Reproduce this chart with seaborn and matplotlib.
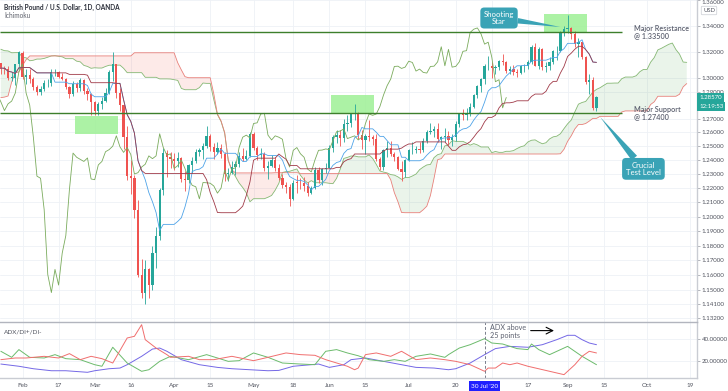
import numpy as np
import pandas as pd
import matplotlib
matplotlib.use("Agg")
import matplotlib.pyplot as plt
import matplotlib.ticker as mticker
import matplotlib.transforms as mtrans
from matplotlib.patches import Rectangle
import seaborn as sns

# GBP/USD daily candles, 24 Jan - 11 Sep 2020 (one value per trading day)
opens = [1.3113, 1.3074, 1.3070, 1.3002, 1.3005, 1.3105,
         1.3195, 1.3008, 1.3025, 1.2993, 1.2937, 1.2896, 1.2920, 1.2964, 1.2969, 1.3045,
         1.3048, 1.3010, 1.2995, 1.2935, 1.2880, 1.2955, 1.2925, 1.2990, 1.2908, 1.2880,
         1.2825, 1.2760, 1.2810, 1.2830, 1.2890, 1.3050, 1.3110, 1.2890, 1.2800, 1.2567,
         1.2285, 1.2270, 1.2050, 1.1605, 1.1485, 1.1640, 1.1535, 1.1750, 1.1870, 1.2190,
         1.2450, 1.2420, 1.2405, 1.2390, 1.2415, 1.2265, 1.2260, 1.2365, 1.2390, 1.2460,
         1.2475, 1.2500, 1.2575, 1.2495, 1.2455, 1.2490, 1.2440, 1.2300, 1.2310, 1.2350,
         1.2370, 1.2430, 1.2410, 1.2430, 1.2590, 1.2490, 1.2435, 1.2445, 1.2340, 1.2360,
         1.2400, 1.2340, 1.2270, 1.2220, 1.2210, 1.2125, 1.2240, 1.2238, 1.2235, 1.2215,
         1.2165, 1.2200, 1.2330, 1.2255, 1.2335, 1.2345, 1.2490, 1.2565, 1.2580, 1.2560,
         1.2665, 1.2670, 1.2735, 1.2740, 1.2580, 1.2545, 1.2575, 1.2565, 1.2550, 1.2410,
         1.2350, 1.2470, 1.2490, 1.2445, 1.2420, 1.2335, 1.2315, 1.2400, 1.2470, 1.2472,
         1.2480, 1.2475, 1.2540, 1.2605, 1.2610, 1.2625, 1.2555, 1.2565, 1.2575, 1.2545,
         1.2565, 1.2665, 1.2735, 1.2725, 1.2735, 1.2790, 1.2875, 1.2945, 1.2995, 1.3090,
         1.3092, 1.3075, 1.3085, 1.3130, 1.3120, 1.3055, 1.3070, 1.3045, 1.3040, 1.3090,
         1.3092, 1.3125, 1.3240, 1.3095, 1.3220, 1.3085, 1.3090, 1.3125, 1.3205, 1.3210,
         1.3350, 1.3375, 1.3385, 1.3340, 1.3260, 1.3275, 1.3160, 1.2975, 1.2990, 1.2780]
highs = [1.3119, 1.3092, 1.3094, 1.3048, 1.3112, 1.3207,
         1.3210, 1.3069, 1.3070, 1.3010, 1.2950, 1.2945, 1.2990, 1.2995, 1.3070, 1.3069,
         1.3055, 1.3039, 1.3000, 1.2942, 1.2978, 1.2975, 1.3000, 1.2998, 1.2930, 1.2890,
         1.2830, 1.2825, 1.2860, 1.2925, 1.3063, 1.3200, 1.3110, 1.2928, 1.2800, 1.2650,
         1.2400, 1.2290, 1.2120, 1.1710, 1.1700, 1.1650, 1.1800, 1.1930, 1.2200, 1.2485,
         1.2470, 1.2460, 1.2450, 1.2460, 1.2420, 1.2325, 1.2375, 1.2420, 1.2480, 1.2490,
         1.2525, 1.2647, 1.2590, 1.2520, 1.2530, 1.2515, 1.2460, 1.2340, 1.2390, 1.2390,
         1.2460, 1.2485, 1.2470, 1.2600, 1.2600, 1.2500, 1.2490, 1.2460, 1.2390, 1.2435,
         1.2420, 1.2370, 1.2300, 1.2245, 1.2230, 1.2260, 1.2295, 1.2270, 1.2280, 1.2245,
         1.2215, 1.2350, 1.2350, 1.2345, 1.2380, 1.2505, 1.2580, 1.2620, 1.2620, 1.2700,
         1.2730, 1.2745, 1.2812, 1.2750, 1.2620, 1.2585, 1.2690, 1.2580, 1.2590, 1.2420,
         1.2480, 1.2540, 1.2540, 1.2460, 1.2430, 1.2390, 1.2410, 1.2480, 1.2530, 1.2500,
         1.2530, 1.2560, 1.2620, 1.2670, 1.2650, 1.2670, 1.2575, 1.2630, 1.2610, 1.2590,
         1.2680, 1.2740, 1.2770, 1.2780, 1.2815, 1.2880, 1.2950, 1.3005, 1.3105, 1.3170,
         1.3120, 1.3100, 1.3140, 1.3185, 1.3135, 1.3090, 1.3100, 1.3070, 1.3100, 1.3110,
         1.3140, 1.3250, 1.3265, 1.3235, 1.3230, 1.3120, 1.3160, 1.3215, 1.3245, 1.3360,
         1.3400, 1.3482, 1.3390, 1.3365, 1.3305, 1.3280, 1.3170, 1.3035, 1.3010, 1.2870]
lows = [1.3036, 1.3034, 1.2988, 1.2977, 1.2953, 1.3072,
        1.2994, 1.2957, 1.2963, 1.2912, 1.2873, 1.2874, 1.2905, 1.2938, 1.2945, 1.3015,
        1.3002, 1.2985, 1.2918, 1.2850, 1.2870, 1.2895, 1.2905, 1.2884, 1.2838, 1.2725,
        1.2725, 1.2725, 1.2770, 1.2820, 1.2880, 1.2984, 1.2852, 1.2760, 1.2480, 1.2260,
        1.2160, 1.1990, 1.1590, 1.1450, 1.1409, 1.1450, 1.1500, 1.1650, 1.1840, 1.2150,
        1.2280, 1.2340, 1.2330, 1.2350, 1.2245, 1.2180, 1.2240, 1.2310, 1.2380, 1.2430,
        1.2410, 1.2490, 1.2465, 1.2405, 1.2445, 1.2415, 1.2250, 1.2250, 1.2300, 1.2290,
        1.2350, 1.2390, 1.2400, 1.2420, 1.2470, 1.2400, 1.2410, 1.2325, 1.2265, 1.2350,
        1.2320, 1.2260, 1.2200, 1.2165, 1.2075, 1.2120, 1.2165, 1.2195, 1.2180, 1.2145,
        1.2160, 1.2195, 1.2240, 1.2220, 1.2310, 1.2340, 1.2460, 1.2520, 1.2500, 1.2530,
        1.2610, 1.2640, 1.2690, 1.2555, 1.2480, 1.2440, 1.2540, 1.2510, 1.2390, 1.2330,
        1.2330, 1.2420, 1.2430, 1.2390, 1.2330, 1.2250, 1.2280, 1.2390, 1.2440, 1.2450,
        1.2450, 1.2460, 1.2520, 1.2590, 1.2570, 1.2530, 1.2480, 1.2530, 1.2510, 1.2500,
        1.2540, 1.2640, 1.2690, 1.2690, 1.2720, 1.2780, 1.2850, 1.2900, 1.2960, 1.3060,
        1.3005, 1.3030, 1.3060, 1.3100, 1.3040, 1.3035, 1.3025, 1.3010, 1.3030, 1.3050,
        1.3070, 1.3110, 1.3090, 1.3070, 1.3065, 1.3050, 1.3065, 1.3105, 1.3140, 1.3200,
        1.3320, 1.3345, 1.3300, 1.3240, 1.3160, 1.3150, 1.2955, 1.2885, 1.2765, 1.2760]
closes = [1.3074, 1.3070, 1.3002, 1.3005, 1.3105, 1.3203,
          1.3008, 1.3025, 1.2993, 1.2937, 1.2896, 1.2920, 1.2964, 1.2969, 1.3045, 1.3048,
          1.3010, 1.2995, 1.2935, 1.2880, 1.2955, 1.2925, 1.2990, 1.2908, 1.2880, 1.2825,
          1.2760, 1.2810, 1.2830, 1.2890, 1.3050, 1.3110, 1.2890, 1.2800, 1.2567, 1.2285,
          1.2270, 1.2050, 1.1605, 1.1485, 1.1640, 1.1535, 1.1750, 1.1870, 1.2190, 1.2450,
          1.2420, 1.2405, 1.2390, 1.2415, 1.2265, 1.2260, 1.2365, 1.2390, 1.2460, 1.2475,
          1.2500, 1.2575, 1.2495, 1.2455, 1.2490, 1.2440, 1.2300, 1.2310, 1.2350, 1.2370,
          1.2430, 1.2410, 1.2430, 1.2590, 1.2490, 1.2435, 1.2445, 1.2340, 1.2360, 1.2400,
          1.2340, 1.2270, 1.2220, 1.2210, 1.2125, 1.2240, 1.2238, 1.2235, 1.2215, 1.2165,
          1.2200, 1.2330, 1.2255, 1.2335, 1.2345, 1.2490, 1.2565, 1.2580, 1.2560, 1.2665,
          1.2670, 1.2735, 1.2740, 1.2580, 1.2545, 1.2575, 1.2565, 1.2550, 1.2410, 1.2350,
          1.2470, 1.2490, 1.2445, 1.2420, 1.2335, 1.2315, 1.2400, 1.2470, 1.2472, 1.2480,
          1.2475, 1.2540, 1.2605, 1.2610, 1.2625, 1.2555, 1.2565, 1.2575, 1.2545, 1.2565,
          1.2665, 1.2735, 1.2725, 1.2735, 1.2790, 1.2875, 1.2945, 1.2995, 1.3090, 1.3092,
          1.3075, 1.3085, 1.3130, 1.3120, 1.3055, 1.3070, 1.3045, 1.3040, 1.3090, 1.3092,
          1.3125, 1.3240, 1.3095, 1.3220, 1.3085, 1.3090, 1.3125, 1.3205, 1.3210, 1.3350,
          1.3375, 1.3385, 1.3340, 1.3260, 1.3275, 1.3160, 1.2975, 1.2990, 1.2780, 1.2857]

# leading spans over the first weeks (their look-back lies left of the visible window)
span_a_early = [1.3221, 1.3210, 1.3208, 1.3194, 1.3195, 1.3195,
                1.3158, 1.3156, 1.3133, 1.3137, 1.3146, 1.3146, 1.3151, 1.3160, 1.3170, 1.3172,
                1.3167, 1.3163, 1.3149, 1.3149, 1.3149, 1.3130, 1.3125, 1.3098, 1.3090, 1.3076,
                1.3080, 1.3078, 1.3078, 1.3090, 1.3099, 1.3100, 1.3100, 1.3100, 1.3076, 1.3043,
                1.3043, 1.3043, 1.3043, 1.3043, 1.3008, 1.3008, 1.3008, 1.3008, 1.2996, 1.2996,
                1.2996, 1.2995, 1.2990, 1.2985]
span_b_early = [1.2856, 1.2860, 1.2868, 1.2973, 1.3043, 1.3048,
                1.3098, 1.3141, 1.3170, 1.3170, 1.3170, 1.3170, 1.3170, 1.3170, 1.3170, 1.3170,
                1.3170, 1.3170, 1.3170, 1.3170, 1.3170, 1.3170, 1.3170, 1.3170, 1.3170, 1.3170,
                1.3170, 1.3170, 1.3170, 1.3170, 1.3170, 1.3170, 1.3170, 1.3170, 1.3170, 1.3170,
                1.3170, 1.3194, 1.3194, 1.3194, 1.3194, 1.3194, 1.3194, 1.3194, 1.3194, 1.3194,
                1.3194, 1.3194, 1.3194, 1.3118, 1.3064, 1.3013, 1.3005, 1.3005, 1.3005, 1.3005,
                1.3005, 1.3005, 1.3005, 1.2883, 1.2734, 1.2684, 1.2599, 1.2400, 1.2329, 1.2308,
                1.2308, 1.2308, 1.2308, 1.2308, 1.2308, 1.2308, 1.2308, 1.2308, 1.2308, 1.2308]

# ADX / DI+ / DI- read at their turning points
adx_dates = ["2020-01-24", "2020-01-31", "2020-02-06", "2020-02-13", "2020-02-19", "2020-02-27",
             "2020-03-02", "2020-03-06", "2020-03-11", "2020-03-13", "2020-03-19", "2020-03-24",
             "2020-03-26", "2020-03-30", "2020-04-03", "2020-04-10", "2020-04-17", "2020-04-23",
             "2020-04-30", "2020-05-07", "2020-05-12", "2020-05-18", "2020-05-25", "2020-05-27",
             "2020-06-01", "2020-06-05", "2020-06-09", "2020-06-15", "2020-06-22", "2020-06-29",
             "2020-07-03", "2020-07-10", "2020-07-16", "2020-07-20", "2020-07-24", "2020-07-30",
             "2020-08-04", "2020-08-10", "2020-08-17", "2020-08-21", "2020-08-27", "2020-09-01",
             "2020-09-03", "2020-09-07", "2020-09-09", "2020-09-11"]
adx_vals = [17.6, 15.6, 13.4, 11.6, 11.6, 10.2, 11.6, 13.4, 14.0, 17.0, 24.5, 31.0,
            31.9, 29.0, 21.5, 17.0, 14.6, 13.4, 12.5, 11.6, 11.9, 15.6, 17.0, 17.6,
            14.6, 17.0, 21.5, 23.0, 20.0, 17.0, 14.6, 14.0, 12.5, 13.4, 18.5, 26.0,
            31.4, 33.4, 32.6, 34.9, 39.4, 43.3, 43.3, 39.4, 36.4, 34.9]
diplus_dates = ["2020-01-24", "2020-01-29", "2020-01-31", "2020-02-05", "2020-02-11", "2020-02-14",
                "2020-02-19", "2020-02-25", "2020-03-02", "2020-03-04", "2020-03-09", "2020-03-13",
                "2020-03-19", "2020-03-23", "2020-03-26", "2020-03-31", "2020-04-07", "2020-04-14",
                "2020-04-22", "2020-04-27", "2020-05-01", "2020-05-07", "2020-05-13", "2020-05-20",
                "2020-05-26", "2020-05-29", "2020-06-03", "2020-06-08", "2020-06-11", "2020-06-16",
                "2020-06-22", "2020-06-25", "2020-06-30", "2020-07-03", "2020-07-09", "2020-07-15",
                "2020-07-16", "2020-07-21", "2020-07-24", "2020-07-30", "2020-08-03", "2020-08-06",
                "2020-08-12", "2020-08-17", "2020-08-18", "2020-08-20", "2020-08-25", "2020-09-01",
                "2020-09-07", "2020-09-11"]
diplus_vals = [29.0, 23.6, 30.5, 23.6, 23.0, 26.0, 22.4, 21.5, 17.0, 15.6, 32.6, 18.5,
               11.1, 12.5, 20.0, 24.5, 21.5, 26.0, 20.0, 20.6, 27.5, 23.6, 18.5, 17.6,
               17.0, 29.0, 30.5, 27.5, 25.0, 21.5, 20.0, 21.5, 20.0, 24.5, 26.6, 23.6,
               26.0, 31.9, 34.9, 40.3, 36.4, 35.5, 31.4, 30.5, 35.5, 30.5, 26.0, 33.4,
               24.5, 17.0]
diminus_dates = ["2020-01-24", "2020-01-30", "2020-02-04", "2020-02-11", "2020-02-17", "2020-02-20",
                 "2020-02-25", "2020-02-28", "2020-03-04", "2020-03-09", "2020-03-13", "2020-03-17",
                 "2020-03-19", "2020-03-20", "2020-03-25", "2020-03-30", "2020-03-31", "2020-04-07",
                 "2020-04-10", "2020-04-16", "2020-04-23", "2020-05-01", "2020-05-07", "2020-05-14",
                 "2020-05-20", "2020-05-26", "2020-05-29", "2020-06-08", "2020-06-10", "2020-06-11",
                 "2020-06-15", "2020-06-18", "2020-06-24", "2020-06-29", "2020-07-03", "2020-07-09",
                 "2020-07-15", "2020-07-20", "2020-07-24", "2020-07-30", "2020-07-31", "2020-08-04",
                 "2020-08-06", "2020-08-10", "2020-08-12", "2020-08-17", "2020-08-25", "2020-08-31",
                 "2020-09-03", "2020-09-07", "2020-09-09", "2020-09-11"]
diminus_vals = [21.5, 23.0, 23.0, 24.5, 23.0, 26.9, 21.5, 24.5, 22.4, 18.5, 40.9, 42.4,
                52.8, 39.4, 31.9, 26.0, 23.6, 24.5, 21.5, 21.5, 24.5, 20.6, 23.6, 27.5,
                26.0, 25.4, 21.5, 15.6, 12.5, 14.0, 26.0, 27.5, 24.5, 29.0, 21.5, 23.0,
                21.5, 20.0, 17.0, 11.1, 14.0, 14.0, 18.5, 17.0, 18.5, 15.6, 11.1, 8.1,
                17.0, 24.5, 29.0, 27.5]

resistance = 1.335
support = 1.274
last_price = 1.2857
price_ticks = [1.132, 1.141, 1.15, 1.16, 1.17, 1.18, 1.19, 1.20, 1.21, 1.22, 1.23,
               1.24, 1.25, 1.26, 1.27, 1.29, 1.30, 1.32, 1.34, 1.36]
tick_dates = ["2020-02-03", "2020-02-17", "2020-03-02", "2020-03-16", "2020-04-01", "2020-04-15",
              "2020-05-01", "2020-05-18", "2020-06-01", "2020-06-15", "2020-07-01", "2020-07-20",
              "2020-08-03", "2020-08-17", "2020-09-01", "2020-09-15", "2020-10-01", "2020-10-19"]
tick_labels = ["Feb", "17", "Mar", "16", "Apr", "15", "May", "18", "Jun", "15", "Jul", "20",
               "", "17", "Sep", "15", "Oct", "19"]

UP, DOWN = "#26a69a", "#ef5350"
TEAL = "#3aa3b6"
TXT = "#50535e"

sns.set_theme(style="white")
plt.rcParams["font.family"] = ["Lato", "DejaVu Sans"]

n = len(closes)
shift = 25
dates = pd.bdate_range("2020-01-24", periods=n + 45)
pos_of = {d.strftime("%Y-%m-%d"): i for i, d in enumerate(dates)}


def P(d):
    return pos_of[d]


px = pd.DataFrame({"open": opens, "high": highs, "low": lows, "close": closes})
px["x"] = np.arange(n)
px["tenkan"] = (px.high.rolling(9, min_periods=1).max() + px.low.rolling(9, min_periods=1).min()) / 2
px["kijun"] = (px.high.rolling(26, min_periods=1).max() + px.low.rolling(26, min_periods=1).min()) / 2
px["lag_x"] = px.x - shift
mid52 = (px.high.rolling(52).max() + px.low.rolling(52).min()) / 2

span_a = np.full(n + shift, np.nan)
span_b = np.full(n + shift, np.nan)
span_a[shift:] = ((px.tenkan + px.kijun) / 2).values
span_b[shift:] = mid52.values
span_a[:len(span_a_early)] = span_a_early
span_b[:len(span_b_early)] = span_b_early
cloud = pd.DataFrame({"x": np.arange(n + shift), "a": span_a, "b": span_b})

fig = plt.figure(figsize=(7.28, 3.91), dpi=100)
ax = fig.add_axes([0, 69 / 391, 697 / 728, 322 / 391])
ax2 = fig.add_axes([0, 13 / 391, 697 / 728, 56 / 391])

xlim = (6 - 22.5 / 3.61, 6 + (697 - 22.5) / 3.61)
grid_x = [P(d) for d in tick_dates]

# ---- price pane
ax.set_yscale("log")
ax.fill_between(cloud.x, cloud.a, cloud.b, where=cloud.a >= cloud.b, interpolate=True,
                color="#43a047", alpha=0.11, lw=0, zorder=1)
ax.fill_between(cloud.x, cloud.a, cloud.b, where=cloud.a < cloud.b, interpolate=True,
                color="#f44336", alpha=0.11, lw=0, zorder=1)

up = px.close >= px.open
cols = np.where(up, UP, DOWN)
ax.vlines(px.x, px.low, px.high, colors=cols, lw=0.6, zorder=3)
body_lo = np.minimum(px.open, px.close)
body_h = np.maximum((px.close - px.open).abs(), 0.0005)
ax.bar(px.x, body_h, bottom=body_lo, width=0.62, color=cols, lw=0, zorder=3)

sns.lineplot(data=cloud, x="x", y="a", ax=ax, color="#86b874", lw=0.6, zorder=2)
sns.lineplot(data=cloud, x="x", y="b", ax=ax, color="#e8807a", lw=0.6, zorder=2)
sns.lineplot(data=px, x="lag_x", y="close", ax=ax, color="#7aab5c", lw=0.6, zorder=4)
sns.lineplot(data=px, x="x", y="tenkan", ax=ax, color="#4ea3e8", lw=0.6, zorder=4)
sns.lineplot(data=px, x="x", y="kijun", ax=ax, color="#a03a48", lw=0.6, zorder=4)

# highlighted zones
zones = [("2020-02-24", "2020-03-10", 1.2588, 1.2721),
         ("2020-06-02", "2020-06-17", 1.2735, 1.2876),
         ("2020-08-24", "2020-09-08", 1.3346, 1.3493)]
for d0, d1, p0, p1 in zones:
    ax.add_patch(Rectangle((P(d0) - 0.5, p0), P(d1) - P(d0) + 1, p1 - p0,
                           fc="#9ef096", ec="none", alpha=0.85, zorder=2.5))

line_end = P("2020-09-22")
ax.hlines([resistance, support], xlim[0], line_end, color="#3d7f2c", lw=1.0, zorder=5)
ax.text(P("2020-09-25") + 0.5, resistance, "Major Resistance\n@ 1.33500", fontsize=5.2,
        color="#5d6170", va="center", ha="left", linespacing=1.05, weight="semibold")
ax.text(P("2020-09-25") + 0.5, support, "Major Support\n@ 1.27400", fontsize=5.2,
        color="#5d6170", va="center", ha="left", linespacing=1.05, weight="semibold")

ax.annotate("Shooting\nStar", xy=(P("2020-08-28"), 1.3392), xytext=(P("2020-08-05"), 1.3462),
            ha="center", va="center", color="white", fontsize=5.6, linespacing=1.0,
            bbox=dict(boxstyle="round,pad=0.45,rounding_size=0.5", fc=TEAL, ec="none"),
            arrowprops=dict(arrowstyle="wedge,tail_width=0.7", fc=TEAL, ec="none",
                            shrinkA=0, shrinkB=0), zorder=6)
ax.annotate("Crucial\nTest Level", xy=(P("2020-09-14"), 1.2713), xytext=(P("2020-09-30"), 1.2337),
            ha="center", va="center", color="white", fontsize=5.6, linespacing=1.0,
            bbox=dict(boxstyle="round,pad=0.5,rounding_size=0.5", fc=TEAL, ec="none"),
            arrowprops=dict(arrowstyle="wedge,tail_width=0.9", fc=TEAL, ec="none",
                            shrinkA=0, shrinkB=0), zorder=6)

ax.set_xlim(*xlim)
ax.set_ylim(1.1291, 1.3603)
ax.yaxis.set_major_locator(mticker.FixedLocator(price_ticks))
ax.yaxis.set_minor_locator(mticker.NullLocator())
ax.yaxis.set_major_formatter(mticker.FormatStrFormatter("%.5f"))
ax.yaxis.tick_right()
ax.tick_params(axis="y", length=2, width=0.5, color="#9598a1", labelsize=4.4,
               labelcolor=TXT, pad=1.2)
# the top label sits at the very edge of the pane: hang it below its tick
ax.yaxis.get_major_ticks()[-1].label2.set_va("top")
ax.set_xticks(grid_x)
ax.tick_params(axis="x", bottom=False, labelbottom=False)
ax.grid(True, color="#eef1f6", lw=0.6)
ax.set_axisbelow(True)
ax.set(xlabel="", ylabel="")
for s in ["left", "top", "bottom"]:
    ax.spines[s].set_visible(False)
ax.spines["right"].set_color("#c9ccd3")
ax.spines["right"].set_linewidth(1.0)

# last price tags
blend = mtrans.blended_transform_factory(ax.transAxes, ax.transData)
ax.text(1.003, last_price, "1.28570", transform=blend, fontsize=4.4, color="white",
        va="center", ha="left", bbox=dict(boxstyle="square,pad=0.3", fc=UP, ec="none"),
        clip_on=False, zorder=7)
ax.annotate("12:19:53", xy=(1.003, last_price), xycoords=blend, xytext=(0, -6.5),
            textcoords="offset points", fontsize=4.4, color="white", va="center", ha="left",
            bbox=dict(boxstyle="square,pad=0.3", fc=UP, ec="none"), annotation_clip=False,
            zorder=7)

fig.text(4 / 728, 1 - 7 / 391, "British Pound / U.S. Dollar, 1D, OANDA", fontsize=4.7,
         weight="bold", color="#2a2e39", va="center", ha="left")
fig.text(4 / 728, 1 - 16 / 391, "Ichimoku", fontsize=4.7, color="#5d606b", va="center", ha="left")
fig.text(709 / 728, 1 - 10.5 / 391, "USD", fontsize=4.2, color=TXT, va="center", ha="center",
         bbox=dict(boxstyle="round,pad=0.3,rounding_size=0.2", fc="white", ec="#c9ccd3", lw=0.5))

# ---- ADX pane
for dts, vals, col in [(adx_dates, adx_vals, "#7468e6"),
                       (diplus_dates, diplus_vals, "#6cbb6c"),
                       (diminus_dates, diminus_vals, "#f06e6e")]:
    d = pd.DataFrame({"x": [P(s) for s in dts], "v": vals})
    sns.lineplot(data=d, x="x", y="v", ax=ax2, color=col, lw=0.7)

ax2.axvline(P("2020-07-30"), color="#7a7e8c", lw=0.7, ls=(0, (3, 2)))
ax2.text(P("2020-07-31") + 0.6, 53.5, "ADX above\n25 points", fontsize=5.2, color="#5d6170",
         va="top", ha="left", linespacing=1.1)
ax2.annotate("", xy=(P("2020-08-27"), 47.5), xytext=(P("2020-08-17"), 47.5),
             arrowprops=dict(arrowstyle="->", color="black", lw=0.8))
ax2.text(0.006, 0.8, "ADX/DI+/DI-", transform=ax2.transAxes, fontsize=4.6, color=TXT)

ax2.set_xlim(*xlim)
ax2.set_ylim(5.1, 55.2)
ax2.set_yticks([20, 40])
ax2.yaxis.set_major_formatter(mticker.FormatStrFormatter("%.5f"))
ax2.yaxis.tick_right()
ax2.tick_params(axis="y", length=2, width=0.5, color="#9598a1", labelsize=4.4,
                labelcolor=TXT, pad=1.2)
ax2.set_xticks(grid_x)
ax2.set_xticklabels(tick_labels)
ax2.tick_params(axis="x", length=0, labelsize=4.6, labelcolor=TXT, pad=3.4)
ax2.grid(True, color="#eef1f6", lw=0.6)
ax2.set_axisbelow(True)
ax2.set(xlabel="", ylabel="")
ax2.spines["left"].set_visible(False)
ax2.spines["top"].set_color("#b2b5be")
ax2.spines["bottom"].set_color("#c9ccd3")
ax2.spines["right"].set_color("#c9ccd3")
for s in ["top", "bottom", "right"]:
    ax2.spines[s].set_linewidth(1.0)

blend2 = mtrans.blended_transform_factory(ax2.transData, ax2.transAxes)
ax2.text(P("2020-07-30"), -0.145, "30 Jul '20", transform=blend2, fontsize=4.6, color="white",
         ha="center", va="center", clip_on=False,
         bbox=dict(boxstyle="square,pad=0.35", fc="#2020ff", ec="none"))

fig.savefig("out.png", dpi=100)
